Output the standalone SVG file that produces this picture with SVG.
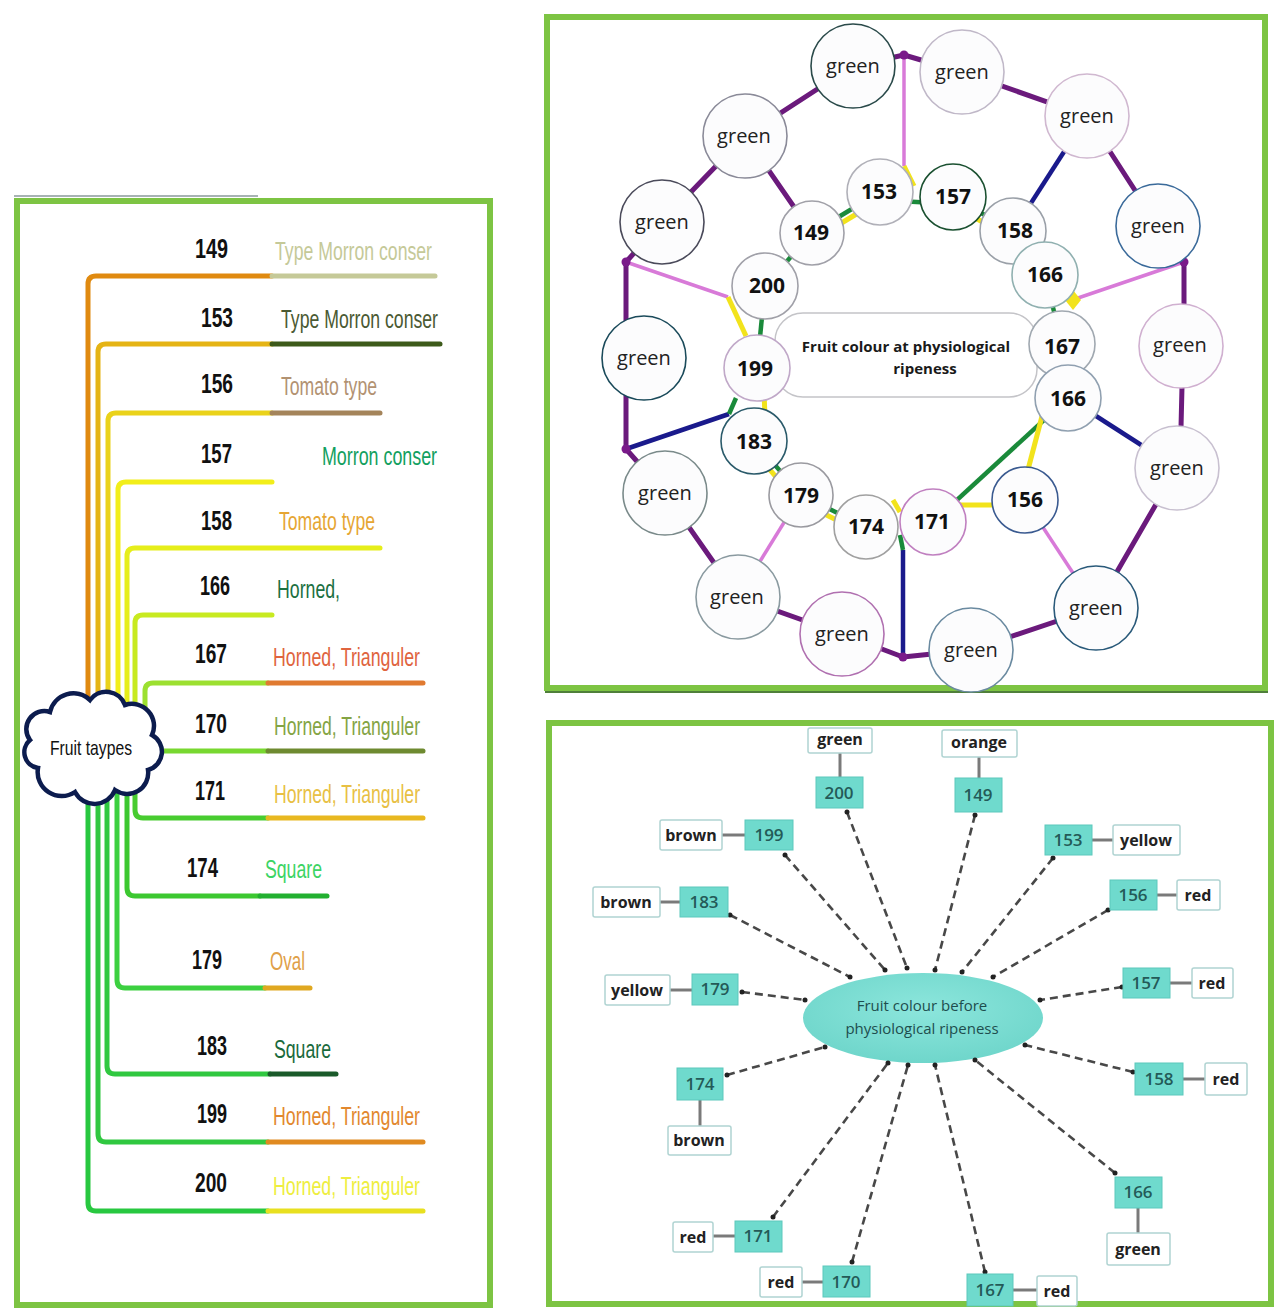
<svg xmlns="http://www.w3.org/2000/svg" width="1277" height="1311" viewBox="0 0 1277 1311">
<style>
.frame{fill:#fff;stroke:#7dc443;stroke-width:6}
.num{font-family:"Liberation Sans",Arial,sans-serif;font-size:28px;font-weight:700;fill:#111}
.lbl{font-family:"Liberation Sans",Arial,sans-serif;font-size:25px}
.br{fill:none;stroke-width:5;stroke-linecap:round;stroke-linejoin:round}
.cg{font-family:"Open Sans","Noto Sans",sans-serif;font-size:20px;fill:#222;text-anchor:middle}
.cn{font-family:"Open Sans","Noto Sans",sans-serif;font-size:21px;font-weight:700;fill:#111;text-anchor:middle}
.circ{fill:#fcfcfd;stroke-width:1.6}
.pu{stroke:#6b1a7c;stroke-width:5;fill:none;stroke-linecap:round;stroke-linejoin:round}
.pk{stroke:#d87ad8;stroke-width:3.5;fill:none}
.nv{stroke:#1a1a8c;stroke-width:4.5;fill:none}
.gr{stroke:#1a8a3a;stroke-width:4.5;fill:none}
.ye{stroke:#f2e31c;stroke-width:5;fill:none}
.jd{fill:#7a1a8a}
.dash{stroke:#484848;stroke-width:2.6;stroke-dasharray:8 5;fill:none}
.dot{fill:#222}
.nb{fill:#6fdacd;stroke:#5cc8bc;stroke-width:1}
.nbt{font-family:"Open Sans",sans-serif;font-size:17px;font-weight:600;fill:#245a58;text-anchor:middle}
.lb{fill:#fff;stroke:#b0d4d2;stroke-width:1.5}
.lbt{font-family:"Open Sans",sans-serif;font-size:16px;font-weight:700;fill:#222;text-anchor:middle}
.tie{stroke:#7a7a7a;stroke-width:3}
</style>
<defs>
  <radialGradient id="ellg" cx="50%" cy="40%" r="60%">
    <stop offset="0" stop-color="#8ce6dc"/>
    <stop offset="1" stop-color="#6fd6cb"/>
  </radialGradient>
</defs>
<rect width="1277" height="1311" fill="#fff"/>

<!-- ============ LEFT PANEL ============ -->
<rect class="frame" x="17" y="201" width="473" height="1104"/>
<line x1="14" y1="196" x2="258" y2="196" stroke="#8a9a9a" stroke-width="1.5"/>

<g id="left-connectors">
  <path class="br" stroke="#e08a10" d="M88,745 V284 Q88,276 96,276 H272"/>
  <path class="br" stroke="#c5c998" d="M272,276 H435"/>
  <path class="br" stroke="#e5b415" d="M98,745 V352 Q98,344 106,344 H272"/>
  <path class="br" stroke="#3d5a1a" d="M272,344 H440"/>
  <path class="br" stroke="#ead21a" d="M108,745 V421 Q108,413 116,413 H272"/>
  <path class="br" stroke="#a4845a" d="M272,413 H380"/>
  <path class="br" stroke="#f2ee1a" d="M118,745 V490 Q118,482 126,482 H272"/>
  <path class="br" stroke="#e6ee1a" d="M127,745 V556 Q127,548 135,548 H380"/>
  <path class="br" stroke="#c8ea20" d="M135,745 V623 Q135,615 143,615 H272"/>
  <path class="br" stroke="#9ce030" d="M145,745 V691 Q145,683 153,683 H268"/>
  <path class="br" stroke="#e07a30" d="M268,683 H423"/>
  <path class="br" stroke="#78d830" d="M150,751 H268"/>
  <path class="br" stroke="#6e8a30" d="M268,751 H423"/>
  <path class="br" stroke="#48cc30" d="M135,745 V810 Q135,818 143,818 H268"/>
  <path class="br" stroke="#e8b820" d="M268,818 H423"/>
  <path class="br" stroke="#3cc830" d="M127,745 V888 Q127,896 135,896 H260"/>
  <path class="br" stroke="#22b030" d="M260,896 H327"/>
  <path class="br" stroke="#3cd040" d="M117,745 V980 Q117,988 125,988 H265"/>
  <path class="br" stroke="#e0a820" d="M265,988 H310"/>
  <path class="br" stroke="#30c840" d="M107,745 V1066 Q107,1074 115,1074 H270"/>
  <path class="br" stroke="#1a5a2a" d="M270,1074 H336"/>
  <path class="br" stroke="#30c840" d="M98,745 V1134 Q98,1142 106,1142 H268"/>
  <path class="br" stroke="#e08a20" d="M268,1142 H423"/>
  <path class="br" stroke="#28c840" d="M88,745 V1203 Q88,1211 96,1211 H268"/>
  <path class="br" stroke="#e8e020" d="M268,1211 H423"/>
</g>

<g id="cloud-fruit-types">
  <path d="M38,768 A16,16 0 0 1 30,740 A18,18 0 0 1 50,712 A24,24 0 0 1 90,700 A20,20 0 0 1 125,705 A22,22 0 0 1 152,735 A19,19 0 0 1 148,770 A21,21 0 0 1 115,790 A22,22 0 0 1 75,792 A24,24 0 0 1 38,768 Z" fill="#fff" stroke="#0c1c4e" stroke-width="4.5"/>
  <text x="91" y="755" text-anchor="middle" font-family="Liberation Sans, Arial, sans-serif" font-size="21" fill="#111" textLength="82" lengthAdjust="spacingAndGlyphs">Fruit taypes</text>
</g>

<g id="row-149"><text class="num" x="195" y="258" textLength="33" lengthAdjust="spacingAndGlyphs">149</text><text class="lbl" x="275" y="260" fill="#c5c998" textLength="157" lengthAdjust="spacingAndGlyphs">Type Morron conser</text></g>
<g id="row-153"><text class="num" x="201" y="327" textLength="32" lengthAdjust="spacingAndGlyphs">153</text><text class="lbl" x="281" y="328" fill="#4b5a33" textLength="157" lengthAdjust="spacingAndGlyphs">Type Morron conser</text></g>
<g id="row-156"><text class="num" x="201" y="393" textLength="32" lengthAdjust="spacingAndGlyphs">156</text><text class="lbl" x="281" y="395" fill="#b29272" textLength="96" lengthAdjust="spacingAndGlyphs">Tomato type</text></g>
<g id="row-157"><text class="num" x="201" y="463" textLength="31" lengthAdjust="spacingAndGlyphs">157</text><text class="lbl" x="322" y="465" fill="#12a060" textLength="115" lengthAdjust="spacingAndGlyphs">Morron conser</text></g>
<g id="row-158"><text class="num" x="201" y="530" textLength="31" lengthAdjust="spacingAndGlyphs">158</text><text class="lbl" x="279" y="530" fill="#e6a634" textLength="96" lengthAdjust="spacingAndGlyphs">Tomato type</text></g>
<g id="row-166"><text class="num" x="200" y="595" textLength="30" lengthAdjust="spacingAndGlyphs">166</text><text class="lbl" x="277" y="598" fill="#1c7042" textLength="63" lengthAdjust="spacingAndGlyphs">Horned,</text></g>
<g id="row-167"><text class="num" x="195" y="663" textLength="32" lengthAdjust="spacingAndGlyphs">167</text><text class="lbl" x="273" y="666" fill="#e0643e" textLength="147" lengthAdjust="spacingAndGlyphs">Horned, Trianguler</text></g>
<g id="row-170"><text class="num" x="195" y="733" textLength="32" lengthAdjust="spacingAndGlyphs">170</text><text class="lbl" x="274" y="735" fill="#84a444" textLength="146" lengthAdjust="spacingAndGlyphs">Horned, Trianguler</text></g>
<g id="row-171"><text class="num" x="195" y="800" textLength="30" lengthAdjust="spacingAndGlyphs">171</text><text class="lbl" x="274" y="803" fill="#e8c044" textLength="146" lengthAdjust="spacingAndGlyphs">Horned, Trianguler</text></g>
<g id="row-174"><text class="num" x="187" y="877" textLength="31" lengthAdjust="spacingAndGlyphs">174</text><text class="lbl" x="265" y="878" fill="#3cd464" textLength="57" lengthAdjust="spacingAndGlyphs">Square</text></g>
<g id="row-179"><text class="num" x="192" y="969" textLength="30" lengthAdjust="spacingAndGlyphs">179</text><text class="lbl" x="270" y="970" fill="#e0a048" textLength="35" lengthAdjust="spacingAndGlyphs">Oval</text></g>
<g id="row-183"><text class="num" x="197" y="1055" textLength="30" lengthAdjust="spacingAndGlyphs">183</text><text class="lbl" x="274" y="1058" fill="#1a6a3c" textLength="57" lengthAdjust="spacingAndGlyphs">Square</text></g>
<g id="row-199"><text class="num" x="197" y="1123" textLength="30" lengthAdjust="spacingAndGlyphs">199</text><text class="lbl" x="273" y="1125" fill="#e2882e" textLength="147" lengthAdjust="spacingAndGlyphs">Horned, Trianguler</text></g>
<g id="row-200"><text class="num" x="195" y="1192" textLength="32" lengthAdjust="spacingAndGlyphs">200</text><text class="lbl" x="273" y="1195" fill="#eeee40" textLength="147" lengthAdjust="spacingAndGlyphs">Horned, Trianguler</text></g>

<!-- ============ TOP RIGHT PANEL ============ -->
<rect class="frame" x="547" y="17" width="718" height="671"/>
<line x1="545" y1="692" x2="1268" y2="692" stroke="#4f7f3a" stroke-width="2"/>

<g id="ring-connectors">
  <polyline class="pu" points="853,66 904,55 962,72"/>
  <line class="pu" x1="962" y1="72" x2="1087" y2="116"/>
  <line class="pu" x1="1087" y1="116" x2="1158" y2="226"/>
  <polyline class="pu" points="1158,226 1184,262 1184,346"/>
  <line class="pu" x1="1183" y1="346" x2="1180" y2="468"/>
  <line class="pu" x1="1177" y1="468" x2="1096" y2="608"/>
  <line class="pu" x1="1096" y1="608" x2="971" y2="650"/>
  <polyline class="pu" points="971,650 903,657 842,634"/>
  <line class="pu" x1="842" y1="634" x2="738" y2="597"/>
  <line class="pu" x1="738" y1="597" x2="665" y2="493"/>
  <polyline class="pu" points="665,493 626,449 626,380"/>
  <polyline class="pu" points="626,330 626,262 662,222"/>
  <line class="pu" x1="662" y1="222" x2="745" y2="136"/>
  <line class="pu" x1="745" y1="136" x2="812" y2="233"/>
  <line class="pu" x1="745" y1="136" x2="853" y2="66"/>

  <line class="pk" x1="904" y1="55" x2="904" y2="166"/>
  <line class="pk" x1="1184" y1="262" x2="1078" y2="298"/>
  <line class="pk" x1="1096" y1="608" x2="1025" y2="500"/>
  <line class="pk" x1="738" y1="597" x2="801" y2="495"/>
  <line class="pk" x1="626" y1="262" x2="728" y2="297"/>

  <line class="nv" x1="1087" y1="116" x2="1013" y2="231"/>
  <line class="nv" x1="1177" y1="468" x2="1068" y2="398"/>
  <line class="nv" x1="903" y1="657" x2="903" y2="550"/>
  <line class="nv" x1="626" y1="449" x2="729" y2="414"/>

  <line class="ye" x1="904" y1="166" x2="914" y2="186"/>
  <polygon points="1073,290 1081,300 1073,310 1065,300" fill="#f2e31c"/>
  <line class="ye" x1="728" y1="297" x2="746" y2="336"/>
  <line class="gr" x1="903" y1="550" x2="900" y2="535"/>
  <line class="gr" x1="729" y1="414" x2="736" y2="398"/>

  <line class="gr" x1="812" y1="233" x2="880" y2="192"/>
  <line class="ye" x1="815" y1="239" x2="883" y2="198"/>
  <line class="gr" x1="880" y1="200" x2="953" y2="204"/>
  <line class="gr" x1="953" y1="197" x2="1013" y2="231"/>
  <line class="ye" x1="949" y1="203" x2="1009" y2="237"/>
  <line class="gr" x1="1013" y1="231" x2="1045" y2="275"/>
  <line class="gr" x1="1045" y1="275" x2="1062" y2="344"/>
  <line class="gr" x1="765" y1="286" x2="757" y2="368"/>
  <line class="gr" x1="765" y1="286" x2="812" y2="233"/>
  <line class="ye" x1="763" y1="368" x2="766" y2="441"/>
  <line class="gr" x1="754" y1="441" x2="801" y2="495"/>
  <line class="ye" x1="750" y1="447" x2="797" y2="501"/>
  <line class="gr" x1="801" y1="495" x2="866" y2="527"/>
  <line class="ye" x1="798" y1="501" x2="863" y2="533"/>
  <line class="ye" x1="893" y1="500" x2="900" y2="512"/>
  <line class="ye" x1="933" y1="505" x2="1000" y2="505"/>
  <line class="gr" x1="933" y1="522" x2="1068" y2="398"/>
  <line class="ye" x1="1020" y1="500" x2="1045" y2="405"/>

  <circle class="jd" cx="904" cy="55" r="4.5"/>
  <circle class="jd" cx="1184" cy="262" r="4.5"/>
  <circle class="jd" cx="903" cy="657" r="4.5"/>
  <circle class="jd" cx="626" cy="449" r="4.5"/>
  <circle class="jd" cx="626" cy="262" r="4.5"/>
</g>

<g id="center-ripeness">
  <rect x="775" y="313" width="262" height="84" rx="28" fill="#fff" stroke="#c4c4c8" stroke-width="1.5"/>
  <text x="906" y="352" text-anchor="middle" font-family="Open Sans, Noto Sans, sans-serif" font-size="15" font-weight="700" fill="#1a1a1a">Fruit colour at physiological</text>
  <text x="925" y="374" text-anchor="middle" font-family="Open Sans, Noto Sans, sans-serif" font-size="15" font-weight="700" fill="#1a1a1a">ripeness</text>
</g>

<g id="g01"><circle class="circ" cx="853" cy="66" r="42" stroke="#2a4a4a"/><text class="cg" x="853" y="73">green</text></g>
<g id="g02"><circle class="circ" cx="962" cy="72" r="42" stroke="#c0b8c8"/><text class="cg" x="962" y="79">green</text></g>
<g id="g03"><circle class="circ" cx="1087" cy="116" r="42" stroke="#d0b8d0"/><text class="cg" x="1087" y="123">green</text></g>
<g id="g04"><circle class="circ" cx="1158" cy="226" r="42" stroke="#3a6a9a"/><text class="cg" x="1158" y="233">green</text></g>
<g id="g05"><circle class="circ" cx="1181" cy="346" r="42" stroke="#d0b0d0"/><text class="cg" x="1180" y="352">green</text></g>
<g id="g06"><circle class="circ" cx="1177" cy="468" r="42" stroke="#c8c0d0"/><text class="cg" x="1177" y="475">green</text></g>
<g id="g07"><circle class="circ" cx="1096" cy="608" r="42" stroke="#2a5a7a"/><text class="cg" x="1096" y="615">green</text></g>
<g id="g08"><circle class="circ" cx="971" cy="650" r="42" stroke="#6a8aa0"/><text class="cg" x="971" y="657">green</text></g>
<g id="g09"><circle class="circ" cx="842" cy="634" r="42" stroke="#b070b0"/><text class="cg" x="842" y="641">green</text></g>
<g id="g10"><circle class="circ" cx="738" cy="597" r="42" stroke="#8a9aa0"/><text class="cg" x="737" y="604">green</text></g>
<g id="g11"><circle class="circ" cx="665" cy="493" r="42" stroke="#7a8a8a"/><text class="cg" x="665" y="500">green</text></g>
<g id="g12"><circle class="circ" cx="644" cy="358" r="42" stroke="#1a4a5a"/><text class="cg" x="644" y="365">green</text></g>
<g id="g13"><circle class="circ" cx="662" cy="222" r="42" stroke="#4a4a5a"/><text class="cg" x="662" y="229">green</text></g>
<g id="g14"><circle class="circ" cx="745" cy="136" r="42" stroke="#8a8a98"/><text class="cg" x="744" y="143">green</text></g>

<g id="n153"><circle class="circ" cx="880" cy="192" r="33" stroke="#b0b0b8"/><text class="cn" x="879" y="199">153</text></g>
<g id="n157"><circle class="circ" cx="953" cy="197" r="33" stroke="#1a5030"/><text class="cn" x="953" y="204">157</text></g>
<g id="n158"><circle class="circ" cx="1013" cy="231" r="33" stroke="#9aa0a8"/><text class="cn" x="1015" y="238">158</text></g>
<g id="n166a"><circle class="circ" cx="1045" cy="275" r="33" stroke="#90b0b0"/><text class="cn" x="1045" y="282">166</text></g>
<g id="n167"><circle class="circ" cx="1062" cy="344" r="33" stroke="#a0a8b0"/><text class="cn" x="1062" y="354">167</text></g>
<g id="n166b"><circle class="circ" cx="1068" cy="398" r="33" stroke="#90a0b0"/><text class="cn" x="1068" y="406">166</text></g>
<g id="n156"><circle class="circ" cx="1025" cy="500" r="33" stroke="#3a5a90"/><text class="cn" x="1025" y="507">156</text></g>
<g id="n171"><circle class="circ" cx="933" cy="522" r="33" stroke="#c080c0"/><text class="cn" x="932" y="529">171</text></g>
<g id="n174"><circle class="circ" cx="866" cy="527" r="32" stroke="#a0a0a0"/><text class="cn" x="866" y="534">174</text></g>
<g id="n179"><circle class="circ" cx="801" cy="495" r="32" stroke="#9a9aa0"/><text class="cn" x="801" y="503">179</text></g>
<g id="n183"><circle class="circ" cx="754" cy="441" r="33" stroke="#2a5a6a"/><text class="cn" x="754" y="449">183</text></g>
<g id="n199"><circle class="circ" cx="757" cy="368" r="33" stroke="#c0a8c8"/><text class="cn" x="755" y="376">199</text></g>
<g id="n200"><circle class="circ" cx="765" cy="286" r="33" stroke="#a0a0a8"/><text class="cn" x="767" y="293">200</text></g>
<g id="n149"><circle class="circ" cx="812" cy="233" r="32" stroke="#a0a0a8"/><text class="cn" x="811" y="240">149</text></g>

<!-- ============ BOTTOM RIGHT PANEL ============ -->
<rect class="frame" x="549" y="723" width="722" height="581"/>

<g id="center-before">
  <ellipse cx="923" cy="1018" rx="120" ry="45" fill="url(#ellg)"/>
  <text x="922" y="1011" text-anchor="middle" font-family="Open Sans, Noto Sans, sans-serif" font-size="15" fill="#1e4e4e">Fruit colour before</text>
  <text x="922" y="1034" text-anchor="middle" font-family="Open Sans, Noto Sans, sans-serif" font-size="15" fill="#1e4e4e">physiological ripeness</text>
</g>

<g id="spoke-connectors">
  <line class="dash" x1="847" y1="812" x2="907" y2="968"/>
  <line class="dash" x1="785" y1="855" x2="885" y2="970"/>
  <line class="dash" x1="730" y1="915" x2="850" y2="977"/>
  <line class="dash" x1="742" y1="992" x2="805" y2="1000"/>
  <line class="dash" x1="975" y1="815" x2="935" y2="970"/>
  <line class="dash" x1="1053" y1="858" x2="962" y2="972"/>
  <line class="dash" x1="1108" y1="910" x2="993" y2="977"/>
  <line class="dash" x1="1122" y1="987" x2="1040" y2="1000"/>
  <line class="dash" x1="1133" y1="1072" x2="1025" y2="1045"/>
  <line class="dash" x1="1115" y1="1173" x2="975" y2="1060"/>
  <line class="dash" x1="985" y1="1272" x2="935" y2="1065"/>
  <line class="dash" x1="852" y1="1262" x2="908" y2="1065"/>
  <line class="dash" x1="773" y1="1217" x2="888" y2="1063"/>
  <line class="dash" x1="727" y1="1075" x2="825" y2="1047"/>
  <g class="dot">
    <circle cx="847" cy="812" r="2.5"/><circle cx="907" cy="968" r="2.5"/>
    <circle cx="785" cy="855" r="2.5"/><circle cx="885" cy="970" r="2.5"/>
    <circle cx="730" cy="915" r="2.5"/><circle cx="850" cy="977" r="2.5"/>
    <circle cx="742" cy="992" r="2.5"/><circle cx="805" cy="1000" r="2.5"/>
    <circle cx="975" cy="815" r="2.5"/><circle cx="935" cy="970" r="2.5"/>
    <circle cx="1053" cy="858" r="2.5"/><circle cx="962" cy="972" r="2.5"/>
    <circle cx="1108" cy="910" r="2.5"/><circle cx="993" cy="977" r="2.5"/>
    <circle cx="1122" cy="987" r="2.5"/><circle cx="1040" cy="1000" r="2.5"/>
    <circle cx="1133" cy="1072" r="2.5"/><circle cx="1025" cy="1045" r="2.5"/>
    <circle cx="1115" cy="1173" r="2.5"/><circle cx="975" cy="1060" r="2.5"/>
    <circle cx="985" cy="1272" r="2.5"/><circle cx="935" cy="1065" r="2.5"/>
    <circle cx="852" cy="1262" r="2.5"/><circle cx="908" cy="1065" r="2.5"/>
    <circle cx="773" cy="1217" r="2.5"/><circle cx="888" cy="1063" r="2.5"/>
    <circle cx="727" cy="1075" r="2.5"/><circle cx="825" cy="1047" r="2.5"/>
  </g>
  <line class="tie" x1="840" y1="753" x2="840" y2="777"/>
  <line class="tie" x1="979" y1="757" x2="979" y2="778"/>
  <line class="tie" x1="1092" y1="840" x2="1113" y2="840"/>
  <line class="tie" x1="1157" y1="895" x2="1177" y2="895"/>
  <line class="tie" x1="1170" y1="983" x2="1192" y2="983"/>
  <line class="tie" x1="1183" y1="1079" x2="1205" y2="1079"/>
  <line class="tie" x1="1138" y1="1208" x2="1138" y2="1233"/>
  <line class="tie" x1="1013" y1="1290" x2="1037" y2="1290"/>
  <line class="tie" x1="802" y1="1282" x2="823" y2="1282"/>
  <line class="tie" x1="713" y1="1236" x2="735" y2="1236"/>
  <line class="tie" x1="700" y1="1100" x2="700" y2="1126"/>
  <line class="tie" x1="670" y1="990" x2="692" y2="990"/>
  <line class="tie" x1="660" y1="902" x2="680" y2="902"/>
  <line class="tie" x1="722" y1="835" x2="745" y2="835"/>
</g>

<g id="b200"><rect class="nb" x="816" y="777" width="47" height="31"/><text class="nbt" x="839" y="799">200</text></g>
<g id="b200c"><rect class="lb" x="808" y="728" width="64" height="25" rx="2"/><text class="lbt" x="840" y="745">green</text></g>
<g id="b149"><rect class="nb" x="955" y="778" width="47" height="34"/><text class="nbt" x="978" y="801">149</text></g>
<g id="b149c"><rect class="lb" x="942" y="730" width="75" height="27" rx="2"/><text class="lbt" x="979" y="748">orange</text></g>
<g id="b153"><rect class="nb" x="1045" y="825" width="47" height="30"/><text class="nbt" x="1068" y="846">153</text></g>
<g id="b153c"><rect class="lb" x="1113" y="825" width="67" height="30" rx="2"/><text class="lbt" x="1146" y="846">yellow</text></g>
<g id="b156"><rect class="nb" x="1110" y="880" width="47" height="30"/><text class="nbt" x="1133" y="901">156</text></g>
<g id="b156c"><rect class="lb" x="1177" y="880" width="43" height="30" rx="2"/><text class="lbt" x="1198" y="901">red</text></g>
<g id="b157"><rect class="nb" x="1123" y="968" width="47" height="30"/><text class="nbt" x="1146" y="989">157</text></g>
<g id="b157c"><rect class="lb" x="1192" y="968" width="41" height="30" rx="2"/><text class="lbt" x="1212" y="989">red</text></g>
<g id="b158"><rect class="nb" x="1135" y="1063" width="48" height="32"/><text class="nbt" x="1159" y="1085">158</text></g>
<g id="b158c"><rect class="lb" x="1205" y="1063" width="42" height="32" rx="2"/><text class="lbt" x="1226" y="1085">red</text></g>
<g id="b166"><rect class="nb" x="1115" y="1177" width="47" height="31"/><text class="nbt" x="1138" y="1198">166</text></g>
<g id="b166c"><rect class="lb" x="1107" y="1233" width="63" height="32" rx="2"/><text class="lbt" x="1138" y="1255">green</text></g>
<g id="b167"><rect class="nb" x="967" y="1274" width="46" height="32"/><text class="nbt" x="990" y="1296">167</text></g>
<g id="b167c"><rect class="lb" x="1037" y="1276" width="40" height="30" rx="2"/><text class="lbt" x="1057" y="1297">red</text></g>
<g id="b170"><rect class="nb" x="823" y="1266" width="47" height="31"/><text class="nbt" x="846" y="1288">170</text></g>
<g id="b170c"><rect class="lb" x="760" y="1267" width="42" height="30" rx="2"/><text class="lbt" x="781" y="1288">red</text></g>
<g id="b171"><rect class="nb" x="735" y="1221" width="47" height="31"/><text class="nbt" x="758" y="1242">171</text></g>
<g id="b171c"><rect class="lb" x="673" y="1222" width="40" height="30" rx="2"/><text class="lbt" x="693" y="1243">red</text></g>
<g id="b174"><rect class="nb" x="677" y="1068" width="46" height="32"/><text class="nbt" x="700" y="1090">174</text></g>
<g id="b174c"><rect class="lb" x="668" y="1126" width="63" height="29" rx="2"/><text class="lbt" x="699" y="1146">brown</text></g>
<g id="b179"><rect class="nb" x="692" y="974" width="46" height="31"/><text class="nbt" x="715" y="995">179</text></g>
<g id="b179c"><rect class="lb" x="605" y="975" width="65" height="30" rx="2"/><text class="lbt" x="637" y="996">yellow</text></g>
<g id="b183"><rect class="nb" x="680" y="887" width="48" height="30"/><text class="nbt" x="704" y="908">183</text></g>
<g id="b183c"><rect class="lb" x="593" y="887" width="67" height="30" rx="2"/><text class="lbt" x="626" y="908">brown</text></g>
<g id="b199"><rect class="nb" x="745" y="820" width="48" height="30"/><text class="nbt" x="769" y="841">199</text></g>
<g id="b199c"><rect class="lb" x="660" y="820" width="62" height="30" rx="2"/><text class="lbt" x="691" y="841">brown</text></g>
</svg>
